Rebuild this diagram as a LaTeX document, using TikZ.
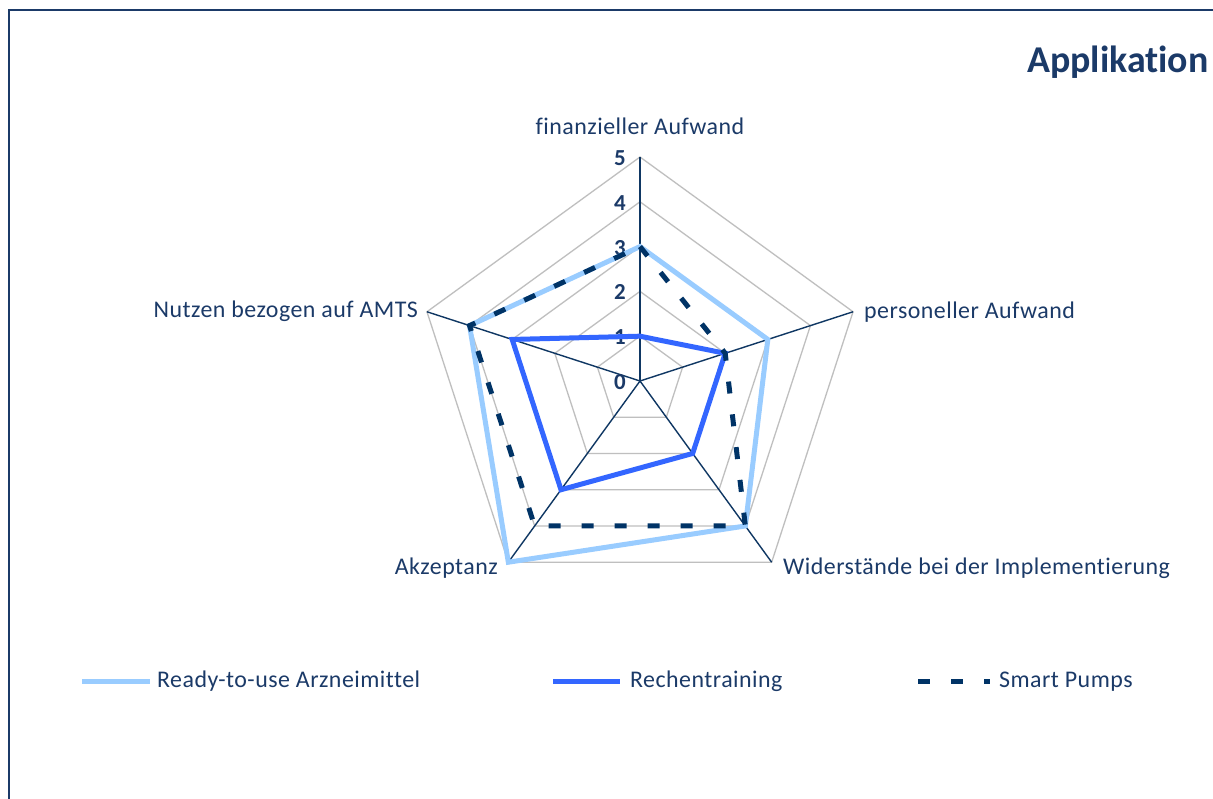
\documentclass[tikz,border=0pt]{standalone}
\usepackage{fontspec}
\setmainfont[Ligatures=NoCommon, LetterSpace=2]{Carlito}
\newfontfamily\titlefont[Ligatures=NoCommon]{Carlito}
\usetikzlibrary{calc}
\definecolor{navy}{HTML}{1B3A68}
\definecolor{axisnavy}{HTML}{0F3763}
\definecolor{darkser}{HTML}{003366}
\definecolor{lightser}{HTML}{99CCFF}
\definecolor{midser}{HTML}{3366FF}
\definecolor{gridgray}{HTML}{BFBFBF}
\tikzset{
  gridline/.style={draw=gridgray, line width=1.3bp},
  axisline/.style={draw=axisnavy, line width=1.4bp},
  serlight/.style={draw=lightser, line width=5bp, line join=miter},
  sermid/.style={draw=midser, line width=5bp, line join=miter},
  serdark/.style={draw=darkser, line width=5bp, dash pattern=on 12bp off 21bp},
  catlabel/.style={font=\fontsize{24}{28}\selectfont, text=navy, inner sep=0pt},
  ticklabel/.style={font=\fontsize{23}{26}\selectfont\bfseries, text=navy, inner sep=0pt, anchor=east},
  legtext/.style={font=\fontsize{24}{28}\selectfont, text=navy, inner sep=0pt, anchor=base west},
}
\begin{document}
\begin{tikzpicture}[x=1bp,y=1bp]
\useasboundingbox (0,0) rectangle (1213,799);
\fill[white] (0,0) rectangle (1213,799);
% frame of the chart area
\draw[navy, line width=2.5bp] (9,0) -- (9,789) -- (1213,789);

\def\u{44.8}
\begin{scope}[shift={(640,418)}]
  % concentric grid pentagons
  \foreach \k in {1,...,5}
    \draw[gridline] (90:{\k*\u}) -- (18:{\k*\u}) -- (-54:{\k*\u}) -- (-126:{\k*\u}) -- (162:{\k*\u}) -- cycle;
  % axis spokes
  \coordinate (o) at (0,0);
  \coordinate (a1) at (90:{5*\u});
  \coordinate (a2) at (18:{5*\u});
  \coordinate (a3) at (-54:{5*\u});
  \coordinate (a4) at (-126:{5*\u});
  \coordinate (a5) at (162:{5*\u});
  \foreach \i in {1,...,5} \draw[axisline] (o) -- (a\i);
  % tick labels on the vertical axis
  \foreach \k in {0,...,5}
    \node[ticklabel] (t\k) at (-14,{\k*\u-1}) {\k};

  % Ready-to-use Arzneimittel: 3,3,4,5,4
  \coordinate (l1) at (90:{3*\u});
  \coordinate (l2) at (18:{3*\u});
  \coordinate (l3) at (-54:{4*\u});
  \coordinate (l4) at (-126:{5*\u});
  \coordinate (l5) at (162:{4*\u});
  % Rechentraining: 1,2,2,3,3
  \coordinate (m1) at (90:{1*\u});
  \coordinate (m2) at (18:{2*\u});
  \coordinate (m3) at (-54:{2*\u});
  \coordinate (m4) at (-126:{3*\u});
  \coordinate (m5) at (162:{3*\u});
  % Smart Pumps: 3,2,4,4,4
  \coordinate (d1) at (90:{3*\u});
  \coordinate (d2) at (18:{2*\u});
  \coordinate (d3) at (-54:{4*\u});
  \coordinate (d4) at (-126:{4*\u});
  \coordinate (d5) at (162:{4*\u});

  \draw[serlight] (l1) -- (l2) -- (l3) -- (l4) -- (l5) -- cycle;
  \draw[sermid] (m1) -- (m2) -- (m3) -- (m4) -- (m5) -- cycle;
  \draw[serdark] (d1) -- (d2) -- (d3) -- (d4) -- (d5) -- cycle;
\end{scope}

% category labels
\node[catlabel, anchor=base] (c1) at (640,664) {finanzieller Aufwand};
\node[catlabel, anchor=base west] (c2) at (864,480) {personeller Aufwand};
\node[catlabel, anchor=base west] (c3) at (783,224) {Widerstände bei der Implementierung};
\node[catlabel, anchor=base east] (c4) at (498,224) {Akzeptanz};
\node[catlabel, anchor=base east] (c5) at (418,481) {Nutzen bezogen auf AMTS};

% title
\node[font=\titlefont\fontsize{38}{44}\selectfont\bfseries, text=navy, inner sep=0pt, anchor=base west] (title) at (1027,726) {Applikation};

% legend
\coordinate (k1a) at (82,117);  \coordinate (k1b) at (150,117);
\coordinate (k2a) at (553,117); \coordinate (k2b) at (620,117);
\coordinate (k3a) at (918,117); \coordinate (k3b) at (990,117);
\draw[serlight] (k1a) -- (k1b);
\draw[sermid] (k2a) -- (k2b);
\draw[serdark] (k3a) -- (k3b);
\node[legtext] (g1) at (157,111) {Ready-to-use Arzneimittel};
\node[legtext] (g2) at (630,111) {Rechentraining};
\node[legtext] (g3) at (999,111) {Smart Pumps};
\end{tikzpicture}
\end{document}
